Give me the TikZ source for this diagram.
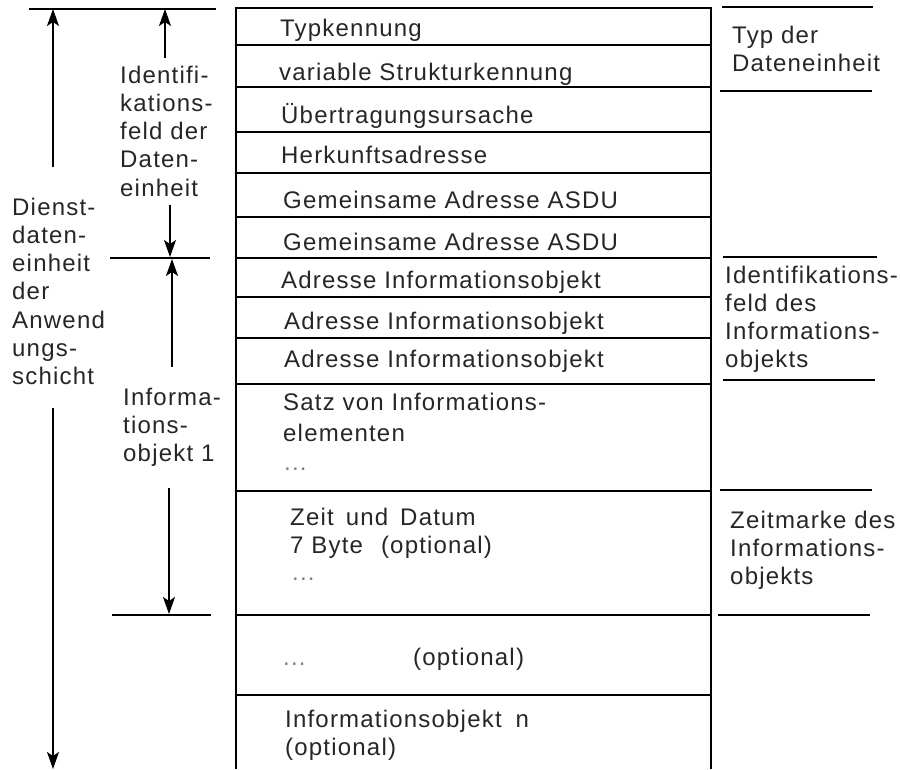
\documentclass[tikz,border=0pt]{standalone}
\usepackage{fontspec}
\setmainfont{Liberation Sans}[LetterSpace=5]
\usetikzlibrary{arrows.meta}
\newcommand{\mltext}[1]{\begin{tabular}[t]{@{}l@{}}#1\end{tabular}}
\begin{document}
\begin{tikzpicture}[x=1pt,y=-1pt,
  lbl/.style={anchor=base west, inner sep=0pt, text=black!85, font=\fontsize{24}{28.3}\selectfont},
  dotsl/.style={lbl, text=gray},
  rule/.style={line width=1.3pt},
  dim/.style={line width=1.3pt, -{Stealth[length=17pt,width=12pt,inset=4pt]}}]
\useasboundingbox (0,0) rectangle (900,769);

% table frame and rows
\draw[rule] (236,769) -- (236,8) -- (711,8) -- (711,769);
\foreach \y in {45,87,132,173,217,258,297,338,384,491,615,695}
  \draw[rule] (236,\y) -- (711,\y);

% table texts
\node[lbl] (t1) at (280,36) {Typkennung};
\node[lbl] (t2) at (279,80) {variable Strukturkennung};
\node[lbl] (t3) at (281,123) {Übertragungsursache};
\node[lbl] (t4) at (281,163) {Herkunftsadresse};
\node[lbl] (t5) at (283,208) {Gemeinsame Adresse ASDU};
\node[lbl] (t6) at (283,250) {Gemeinsame Adresse ASDU};
\node[lbl] (t7) at (281,288) {Adresse Informationsobjekt};
\node[lbl] (t8) at (284,329) {Adresse Informationsobjekt};
\node[lbl] (t9) at (284,367) {Adresse Informationsobjekt};
\node[lbl] (t10) at (283,410) {\mltext{Satz von Informations-\\[3pt] elementen}};
\node[dotsl] (t10d) at (284,470) {...};
\node[lbl] (t11) at (290,525) {\mltext{Zeit\hspace{12pt}und\hspace{12pt}Datum\\7 Byte\hspace{18pt}(optional)}};
\node[dotsl] (t11d) at (292,580) {...};
\node[dotsl] (t12d) at (283,665) {...};
\node[lbl] (t12) at (413,665) {(optional)};
\node[lbl] (t13) at (285,727) {\mltext{Informationsobjekt\hspace{14pt}n\\(optional)}};

% left horizontal marks
\draw[rule] (29,9) -- (216,9);
\draw[rule] (110,258) -- (210,258);
\draw[rule] (112,615) -- (211,615);

% left labels
\node[lbl] (dlabel) at (12,215) {\mltext{Dienst-\\daten-\\einheit\\der\\Anwend\\ungs-\\schicht}};
\node[lbl] (ilabel) at (120,83) {\mltext{Identifi-\\kations-\\feld der\\Daten-\\einheit}};
\node[lbl] (olabel) at (123,405) {\mltext{Informa-\\tions-\\objekt 1}};

% dimension arrows
\coordinate (dTop) at (53,9);
\coordinate (dA) at (53,167);
\coordinate (dB) at (53,408);
\coordinate (dBot) at (53,769);
\draw[dim] (dA) -- (dTop);
\draw[dim] (dB) -- (dBot);

\coordinate (iTop) at (165,9);
\coordinate (iA) at (165,58);
\coordinate (iB) at (170,205);
\coordinate (iBot) at (170,257);
\draw[dim] (iA) -- (iTop);
\draw[dim] (iB) -- (iBot);

\coordinate (oTop) at (172,259);
\coordinate (oA) at (172,367);
\coordinate (oB) at (169,488);
\coordinate (oBot) at (169,614);
\draw[dim] (oA) -- (oTop);
\draw[dim] (oB) -- (oBot);

% right marks
\draw[rule] (722,7) -- (873,7);
\draw[rule] (720,91) -- (872,91);
\draw[rule] (723,257) -- (877,257);
\draw[rule] (723,380) -- (875,380);
\draw[rule] (720,490) -- (872,490);
\draw[rule] (718,615) -- (870,615);

% right labels
\node[lbl] (r1) at (732,43) {\mltext{Typ der\\Dateneinheit}};
\node[lbl] (r2) at (725,283) {\mltext{Identifikations-\\feld des\\Informations-\\objekts}};
\node[lbl] (r3) at (730,528) {\mltext{Zeitmarke des\\Informations-\\objekts}};
\end{tikzpicture}
\end{document}
